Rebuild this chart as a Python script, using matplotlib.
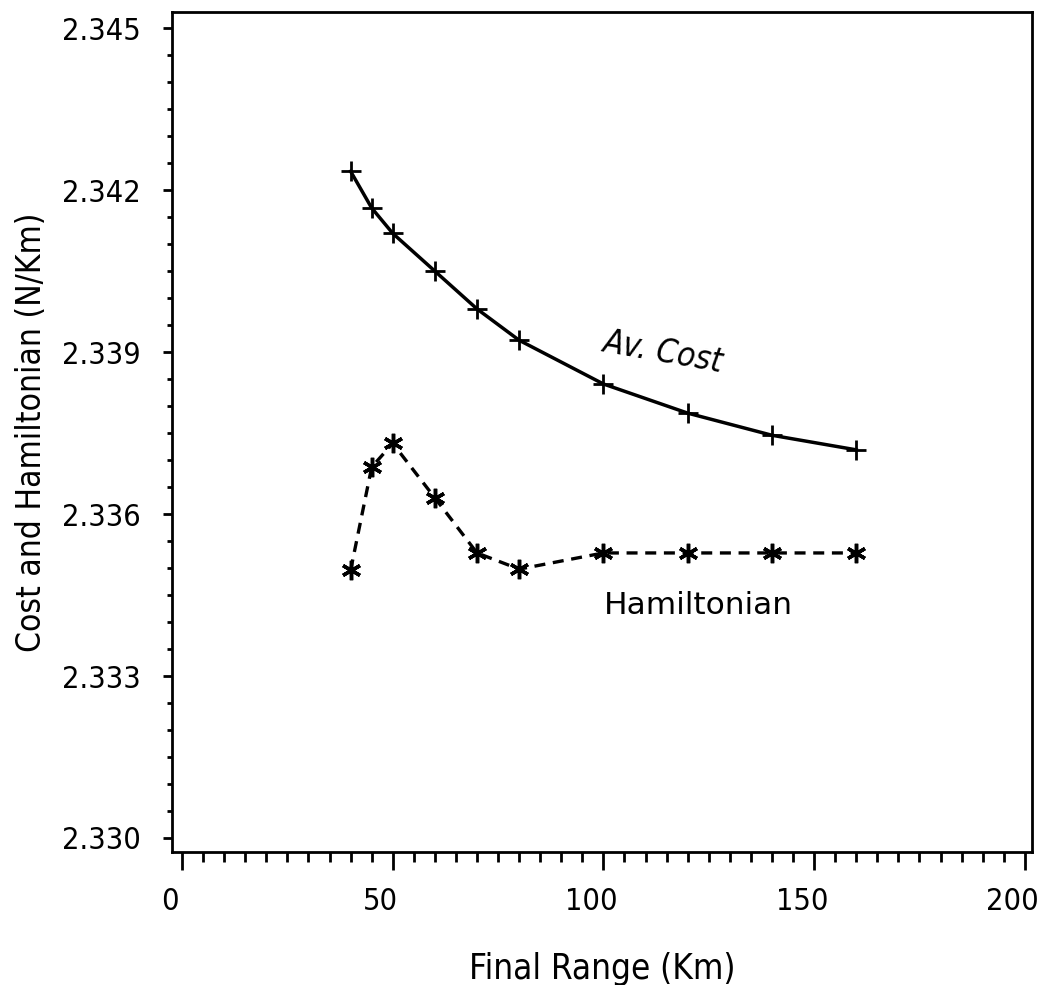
import matplotlib
matplotlib.use("Agg")
import matplotlib.pyplot as plt
import matplotlib.transforms as mtransforms
from matplotlib.ticker import MultipleLocator

plt.rcParams['font.family'] = ['DejaVu Sans']
plt.rcParams['font.stretch'] = 'condensed'

final_range = [40, 45, 50, 60, 70, 80, 100, 120, 140, 160]
av_cost = [2.34235, 2.34167, 2.34120, 2.34050, 2.33980, 2.33922,
           2.33841, 2.33787, 2.33746, 2.33719]
hamiltonian = [2.33496, 2.33687, 2.33731, 2.33630, 2.33528, 2.33498,
               2.33528, 2.33528, 2.33528, 2.33528]
y_ticks = [2.330, 2.333, 2.336, 2.339, 2.342, 2.345]
x_ticks = [0, 50, 100, 150, 200]

fig = plt.figure(figsize=(10.39, 9.85), dpi=100)
ax = fig.add_axes([0.1655, 0.135, 0.8277, 0.8528])

ax.plot(final_range, av_cost, color='black', lw=2.5, marker='+',
        markersize=14, markeredgewidth=2)
ax.plot(final_range, hamiltonian, color='black', lw=2.4, ls=(0, (3.3, 2.3)),
        marker=(6, 2, 0), markersize=14, markeredgewidth=2.5)

ax.text(114.2, 2.33900, "Av. Cost", fontsize=24, style='italic', rotation=-10,
        ha='center', va='center')
ax.text(122.6, 2.33431, "Hamiltonian", fontsize=22.5, fontstretch='normal',
        ha='center', va='center')

ax.set_xlim(-2.4, 201.7)
ax.set_ylim(2.32974, 2.3453)
ax.set_xticks(x_ticks)
ax.set_yticks(y_ticks)
ax.set_yticklabels([f"{v:.3f}" for v in y_ticks])
ax.xaxis.set_minor_locator(MultipleLocator(5))
ax.yaxis.set_minor_locator(MultipleLocator(0.0005))
ax.tick_params(which='both', direction='out', width=2, labelsize=22)
ax.tick_params(axis='x', which='major', length=13, pad=12)
ax.tick_params(axis='x', which='minor', length=7)
ax.tick_params(axis='y', which='major', length=6.5, pad=16)
ax.tick_params(axis='y', which='minor', length=3.6)
for s in ax.spines.values():
    s.set_linewidth(2)

# x tick labels sit a little left of their ticks
shift = mtransforms.ScaledTranslation(-0.12, 0, fig.dpi_scale_trans)
for lbl in ax.get_xticklabels():
    lbl.set_transform(lbl.get_transform() + shift)

ax.set_xlabel("Final Range (Km)", fontsize=25, labelpad=26)
ax.set_ylabel("Cost and Hamiltonian (N/Km)", fontsize=24, labelpad=10)

fig.savefig("out.png", dpi=100)
